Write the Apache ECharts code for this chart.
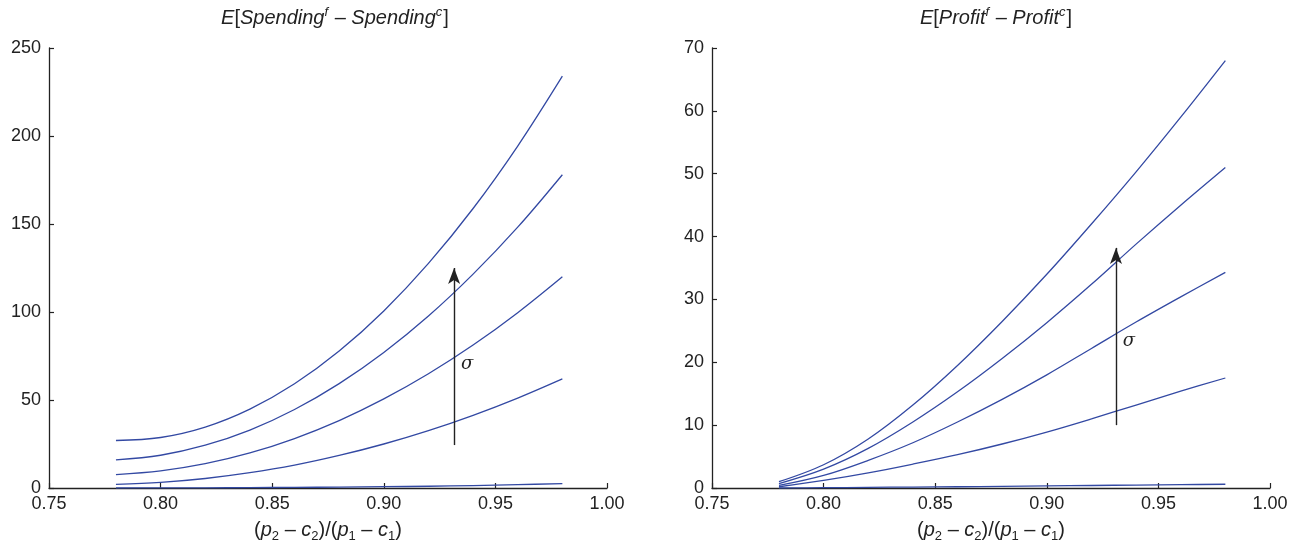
<!DOCTYPE html>
<html>
<head>
<meta charset="utf-8">
<script src="https://cdn.jsdelivr.net/npm/echarts@6/dist/echarts.min.js"></script>
<style>html,body{margin:0;padding:0;background:#fff;}#c{width:1297px;height:545px;}</style>
</head>
<body>
<div id="c"></div>
<script>
// ---- data ----
const xValues = [0.78, 0.80, 0.82, 0.84, 0.86, 0.88, 0.90, 0.92, 0.94, 0.96, 0.98];

const spend1 = [27.0, 28.7, 34.6, 44.8, 59.2, 77.8, 100.6, 127.6, 158.8, 194.3, 234.0];
const spend2 = [16.0, 18.6, 24.3, 32.9, 44.6, 59.3, 77.0, 97.7, 121.5, 148.2, 178.0];
const spend3 = [7.6, 9.7, 13.8, 19.9, 28.1, 38.3, 50.6, 64.9, 81.2, 99.6, 120.0];
const spend4 = [2.1, 3.2, 5.4, 8.7, 13.0, 18.5, 25.0, 32.6, 41.3, 51.1, 62.0];
const spend5 = [0.0, 0.05, 0.1, 0.2, 0.35, 0.5, 0.75, 1.0, 1.4, 1.9, 2.5];

const profit1 = [1.0, 3.7, 7.8, 13.2, 19.5, 26.5, 34.0, 42.0, 50.3, 59.0, 68.0];
const profit2 = [0.7, 3.0, 6.3, 10.5, 15.3, 20.6, 26.3, 32.4, 38.8, 45.0, 51.0];
const profit3 = [0.4, 2.0, 4.4, 7.2, 10.5, 14.1, 18.0, 22.2, 26.4, 30.4, 34.3];
const profit4 = [0.2, 1.2, 2.4, 3.8, 5.3, 7.0, 8.9, 11.0, 13.2, 15.4, 17.5];
const profit5 = [0.0, 0.05, 0.1, 0.15, 0.2, 0.27, 0.33, 0.4, 0.47, 0.53, 0.6];

const xTicks = { min: 0.75, max: 1.00, interval: 0.05 };
const spendTicks = { min: 0, max: 250, interval: 50 };
const profitTicks = { min: 0, max: 70, interval: 10 };

// arrows [x, yStart, yEnd] and sigma label positions [x, y]
const spendArrow = [0.9315, 24.4, 125];
const profitArrow = [0.931, 10, 38.2];
const spendSigma = [0.9373, 70.5];
const profitSigma = [0.9368, 23.3];

const titles = ['{i|E}{n|[}{i|Spending}{sup|f}{n| – }{i|Spending}{sup|c}{n|]}', '{i|E}{n|[}{i|Profit}{sup|f}{n| – }{i|Profit}{sup|c}{n|]}'];
const xName = '{n|(}{i|p}{sub|2}{n| – }{i|c}{sub|2}{n|)/(}{i|p}{sub|1}{n| – }{i|c}{sub|1}{n|)}';

// ---- chart ----
const LINE = '#3349a3';
const INK = '#222';
const FONT = 'Liberation Sans';
const zip = arr => arr.map((v, i) => [xValues[i], v]);

const titleRich = {
  i: { fontStyle: 'italic', fontSize: 20, fontFamily: FONT, color: INK, verticalAlign: 'bottom', lineHeight: 22 },
  n: { fontSize: 20, fontFamily: FONT, color: INK, verticalAlign: 'bottom', lineHeight: 22 },
  sup: { fontStyle: 'italic', fontSize: 13, fontFamily: FONT, color: INK, verticalAlign: 'bottom', lineHeight: 22, padding: [0, 1, 9, 0] }
};
const nameRich = {
  i: { fontStyle: 'italic', fontSize: 20, fontFamily: FONT, color: INK, verticalAlign: 'top', lineHeight: 22 },
  n: { fontSize: 20, fontFamily: FONT, color: INK, verticalAlign: 'top', lineHeight: 22 },
  sub: { fontSize: 13, fontFamily: FONT, color: INK, verticalAlign: 'top', lineHeight: 22, padding: [10, 0, 0, 0] }
};

function xAxisFor(gi) {
  return {
    type: 'value', gridIndex: gi, min: xTicks.min, max: xTicks.max, interval: xTicks.interval,
    axisLine: { lineStyle: { color: INK, width: 1.3 } },
    axisTick: { inside: true, length: 5, lineStyle: { color: INK, width: 1.2 } },
    splitLine: { show: false },
    axisLabel: { color: INK, fontSize: 18, fontFamily: FONT, margin: 7, formatter: v => v.toFixed(2) },
    name: xName, nameLocation: 'middle', nameGap: 32,
    nameTextStyle: { fontSize: 20, fontFamily: FONT, color: INK, verticalAlign: 'top', rich: nameRich }
  };
}
function yAxisFor(gi, t) {
  return {
    type: 'value', gridIndex: gi, min: t.min, max: t.max, interval: t.interval,
    axisLine: { show: true, lineStyle: { color: INK, width: 1.3 } },
    axisTick: { show: true, inside: true, length: 5, lineStyle: { color: INK, width: 1.2 } },
    splitLine: { show: false },
    axisLabel: { color: INK, fontSize: 18, fontFamily: FONT, margin: 8 }
  };
}
function lineSeries(gi, arr) {
  return {
    type: 'line', xAxisIndex: gi, yAxisIndex: gi, data: zip(arr), smooth: 0.35,
    showSymbol: false, symbol: 'none', silent: true,
    lineStyle: { color: LINE, width: 1.3 }, z: 3
  };
}
function arrowSeries(gi, arrow, sigma) {
  return {
    type: 'line', xAxisIndex: gi, yAxisIndex: gi, data: [], silent: true,
    markLine: {
      silent: true, animation: false, symbol: ['none', 'arrow'], symbolSize: [9, 16],
      lineStyle: { color: INK, width: 1.4, type: 'solid' }, label: { show: false },
      data: [[{ coord: [arrow[0], arrow[1]] }, { coord: [arrow[0], arrow[2]] }]]
    },
    markPoint: {
      silent: true, animation: false, symbol: 'circle', symbolSize: 1,
      itemStyle: { color: 'rgba(0,0,0,0)' },
      label: { show: true, position: 'inside', formatter: 'σ', color: INK, fontSize: 18, fontStyle: 'italic', fontFamily: 'DejaVu Serif' },
      data: [{ coord: sigma }]
    }
  };
}

const chart = echarts.init(document.getElementById('c'), null, { renderer: 'canvas' });
chart.setOption({
  animation: false,
  backgroundColor: '#fff',
  title: [
    { text: titles[0], left: 330, top: 1, textAlign: 'center', textStyle: { fontSize: 20, fontFamily: FONT, color: INK, fontWeight: 'normal', rich: titleRich } },
    { text: titles[1], left: 991, top: 1, textAlign: 'center', textStyle: { fontSize: 20, fontFamily: FONT, color: INK, fontWeight: 'normal', rich: titleRich } }
  ],
  grid: [
    { left: 49, top: 48, width: 558, height: 440, outerBoundsMode: 'none', containLabel: false },
    { left: 712, top: 48, width: 558, height: 440, outerBoundsMode: 'none', containLabel: false }
  ],
  xAxis: [xAxisFor(0), xAxisFor(1)],
  yAxis: [yAxisFor(0, spendTicks), yAxisFor(1, profitTicks)],
  series: [
    lineSeries(0, spend1), lineSeries(0, spend2), lineSeries(0, spend3), lineSeries(0, spend4), lineSeries(0, spend5),
    lineSeries(1, profit1), lineSeries(1, profit2), lineSeries(1, profit3), lineSeries(1, profit4), lineSeries(1, profit5),
    arrowSeries(0, spendArrow, spendSigma), arrowSeries(1, profitArrow, profitSigma)
  ]
});
</script>
</body>
</html>
